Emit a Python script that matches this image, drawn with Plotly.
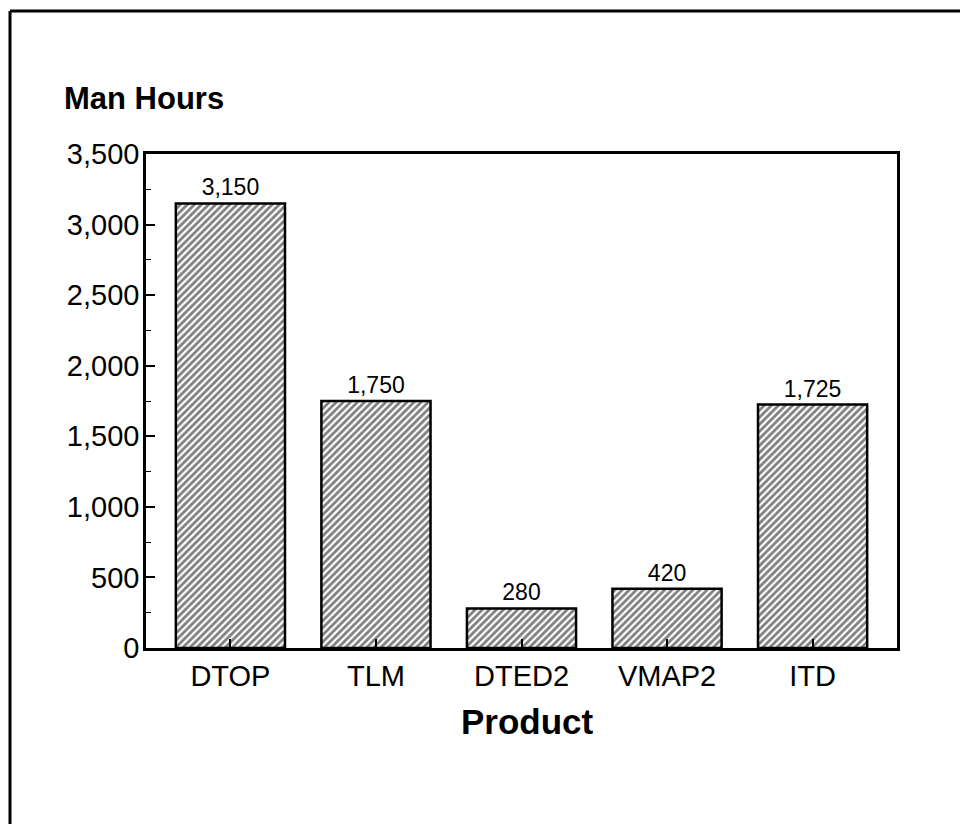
import plotly.graph_objects as go

products = ["DTOP", "TLM", "DTED2", "VMAP2", "ITD"]
man_hours = [3150, 1750, 280, 420, 1725]
bar_labels = ["3,150", "1,750", "280", "420", "1,725"]
y_tickvals = [0, 500, 1000, 1500, 2000, 2500, 3000, 3500]
y_ticktext = ["0", "500", "1,000", "1,500", "2,000", "2,500", "3,000", "3,500"]

# page has an 8px body margin; the figure is drawn 8px in from the window edge
OFF = 8
W, H = 968 - OFF, 824 - OFF
L, T = 146 - OFF, 154 - OFF
R = W - (897 - OFF)
B = H - (648 - OFF)
pw, ph = W - L - R, H - T - B

def px2paper_x(x):
    # x in window pixels
    return (x - OFF - L) / pw

def px2paper_y(y):
    return (H - B - (y - OFF)) / ph

FONT = "Liberation Sans, Arial, Helvetica, sans-serif"

fig = go.Figure(go.Bar(
    x=list(range(len(products))),
    y=man_hours,
    width=0.75,
    text=bar_labels,
    textposition="outside",
    textfont=dict(family=FONT, size=23, color="black"),
    cliponaxis=False,
    marker=dict(
        color="white",
        line=dict(color="black", width=2.5),
        pattern=dict(shape="/", fgcolor="black", bgcolor="white", size=5, solidity=0.55),
    ),
    showlegend=False,
))

fig.update_layout(
    width=W, height=H,
    margin=dict(l=L, r=R, t=T, b=B, pad=0),
    plot_bgcolor="white", paper_bgcolor="white",
    font=dict(family=FONT, color="black"),
    xaxis=dict(
        range=[-0.58, 4.58],
        tickvals=list(range(len(products))),
        ticktext=products,
        ticks="inside", ticklen=9, tickwidth=1.5, tickcolor="black",
        tickfont=dict(family=FONT, size=29, color="black"),
        showline=True, linecolor="black", linewidth=2.5, mirror=True,
        showgrid=False, zeroline=False,
    ),
    yaxis=dict(
        range=[0, 3500],
        tickvals=y_tickvals,
        ticktext=y_ticktext,
        ticks="inside", ticklen=9, tickwidth=1.5, tickcolor="black",
        minor=dict(dtick=250, ticks="inside", ticklen=5, tickwidth=1.2, tickcolor="black"),
        tickfont=dict(family=FONT, size=29, color="black"),
        ticklabelstandoff=-2,
        showline=True, linecolor="black", linewidth=2.5, mirror=True,
        showgrid=False, zeroline=False,
    ),
    annotations=[
        dict(text="<b>Man Hours</b>", xref="paper", yref="paper",
             x=px2paper_x(62), y=px2paper_y(98), xanchor="left", yanchor="middle",
             showarrow=False, font=dict(family=FONT, size=31, color="black")),
        dict(text="<b>Product</b>", xref="paper", yref="paper",
             x=px2paper_x(527), y=px2paper_y(721), xanchor="center", yanchor="middle",
             showarrow=False, font=dict(family=FONT, size=35, color="black")),
    ],
    shapes=[
        dict(type="line", xref="paper", yref="paper",
             x0=px2paper_x(10), x1=px2paper_x(980), y0=px2paper_y(11), y1=px2paper_y(11),
             line=dict(color="black", width=3)),
        dict(type="line", xref="paper", yref="paper",
             x0=px2paper_x(10), x1=px2paper_x(10), y0=px2paper_y(11), y1=px2paper_y(830),
             line=dict(color="black", width=3)),
    ],
)

fig.write_html("out.html")
